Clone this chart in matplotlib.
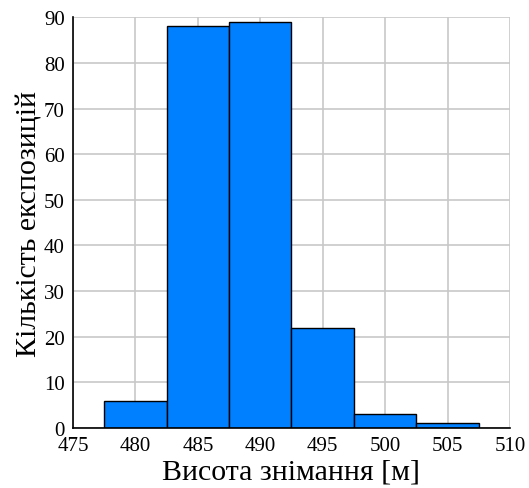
import matplotlib.pyplot as plt
import numpy as np

plt.rcParams['font.family'] = ['Liberation Serif', 'DejaVu Serif']

# bin edges and counts
edges = [477.5, 482.5, 487.5, 492.5, 497.5, 502.5, 507.5]
counts = [6, 88, 89, 22, 3, 1]
xticks = [475, 480, 485, 490, 495, 500, 505, 510]
yticks = [0, 10, 20, 30, 40, 50, 60, 70, 80, 90]

fig = plt.figure(figsize=(5.29, 4.89), dpi=100)
ax = fig.add_axes([0.138, 0.1227, 0.826, 0.840])

widths = np.diff(edges)
ax.bar(edges[:-1], counts, width=widths, align='edge',
       color='#0080ff', edgecolor='black', linewidth=1, zorder=3)

ax.set_xlim(475, 510)
ax.set_ylim(0, 90)
ax.set_xticks(xticks)
ax.set_yticks(yticks)
ax.grid(True, color='#c8c8c8', linewidth=1.2, zorder=0)
ax.set_axisbelow(True)
ax.tick_params(axis='x', length=0, labelsize=15, pad=5.5)
ax.tick_params(axis='y', length=0, labelsize=15, pad=6)

for s in ['top', 'right']:
    ax.spines[s].set_visible(False)
for s in ['left', 'bottom']:
    ax.spines[s].set_color('black')
    ax.spines[s].set_linewidth(1.2)
    ax.spines[s].set_zorder(4)

ax.set_xlabel('Висота знімання [м]', fontsize=21.5, labelpad=3)
ax.set_ylabel('Кількість експозицій', fontsize=21.5, labelpad=1)

fig.savefig('out.png', dpi=100)
